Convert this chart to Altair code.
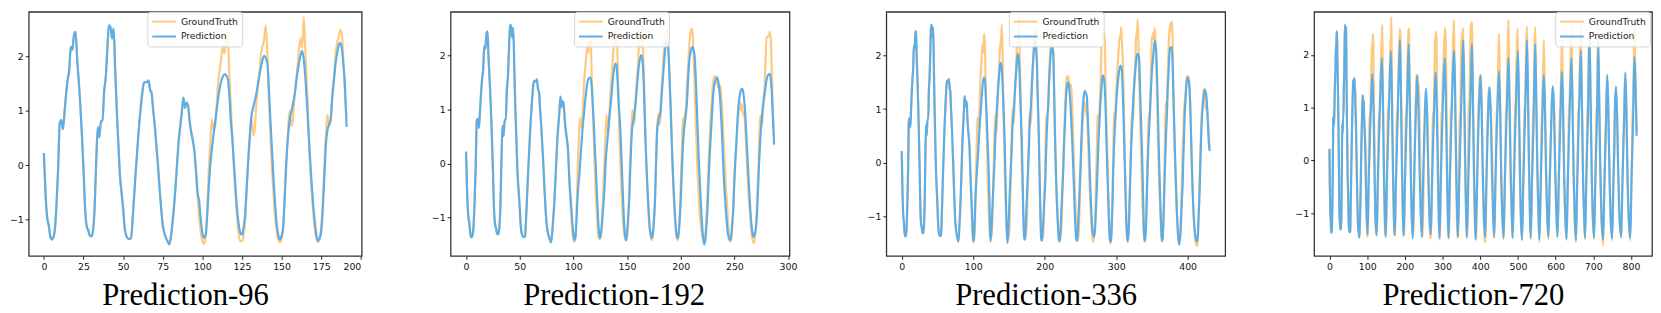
import altair as alt
import pandas as pd

# ---------------- data ----------------
# shared input window (t = 0..95)
HISTORY = [(0,0.22),(1,-0.5),(2,-0.95),(3,-1.1),(4,-1.3),(5,-1.37),(6,-1.33),(7,-1.16),(8,-0.7),(9,-0.07),
(10,0.78),(11,0.83),(12,0.66),(13,0.96),(14,1.3),(15,1.57),(16,1.75),(17,2.18),(18,2.12),(19,2.39),(20,2.45),
(21,1.95),(22,1.55),(23,1.1),(24,0.55),(25,-0.07),(26,-0.8),(27,-1.12),(28,-1.2),(29,-1.3),(30,-1.31),(31,-1.2),
(32,-0.8),(33,0.05),(34,0.7),(35,0.51),(36,0.81),(37,0.81),(38,1.35),(39,1.6),(40,2.1),(41,2.57),(42,2.54),
(43,2.33),(44,2.51),(45,1.75),(46,1.0),(47,0.4),(48,-0.19),(49,-0.5),(50,-0.8),(51,-1.16),(52,-1.3),(53,-1.35),
(54,-1.36),(55,-1.35),(56,-1.0),(57,-0.55),(58,-0.1),(59,0.3),(60,0.7),(61,1.02),(62,1.3),(63,1.5),(64,1.53),
(65,1.52),(66,1.56),(67,1.39),(68,1.32),(69,1.0),(70,0.72),(71,0.35),(72,0.0),(73,-0.43),(74,-0.8),(75,-1.1),
(76,-1.25),(77,-1.34),(78,-1.4),(79,-1.46),(80,-1.35),(81,-1.1),(82,-0.8),(83,-0.43),(84,0.0),(85,0.42),(86,0.7),
(87,0.96),(88,1.24),(89,1.05),(90,1.15),(91,1.09),(92,0.8),(93,0.6),(94,0.45),(95,0.25)]

# ground truth after the input window (t = 96..815)
GT_FUTURE = [(96,-0.15),(97,-0.6),(98,-0.95),(99,-1.25),(100,-1.4),(101,-1.45),(102,-1.35),(103,-0.9),(104,-0.1),
(105,0.4),(106,0.84),(107,0.66),(108,0.7),(109,1.1),(110,1.52),(111,1.75),(112,2.0),(113,2.2),(114,2.05),(115,2.35),
(116,2.4),(117,1.7),(118,1.1),(119,0.5),(120,-0.1),(121,-0.6),(122,-1.0),(123,-1.3),(124,-1.4),(125,-1.4),(126,-1.3),
(127,-1.0),(128,-0.4),(129,0.1),(130,0.6),(131,0.9),(132,0.55),(133,0.65),(134,1.1),(135,1.45),(136,1.7),(137,2.05),
(138,2.2),(139,2.3),(140,2.57),(141,2.1),(142,1.2),(143,0.5),(144,-0.1),(145,-0.6),(146,-1.0),(147,-1.25),(148,-1.38),
(149,-1.42),(150,-1.35),(151,-1.1),(152,-0.5),(153,0.1),(154,0.6),(155,1.0),(156,0.72),(157,0.8),(158,1.2),(159,1.5),
(160,1.8),(161,2.15),(162,2.33),(163,2.15),(164,2.72),(165,2.1),(166,1.45),(167,0.7),(168,0.0),(169,-0.5),(170,-0.9),
(171,-1.2),(172,-1.35),(173,-1.42),(174,-1.35),(175,-1.15),(176,-0.7),(177,-0.05),(178,0.6),(179,0.93),(180,0.72),
(181,0.8),(182,1.3),(183,1.6),(184,2.0),(185,2.25),(186,2.35),(187,2.49),(188,2.42),(189,1.94),(190,1.3),(191,0.85),
(192,0.2),(193,-0.4),(194,-0.85),(195,-1.15),(196,-1.35),(197,-1.42),(198,-1.35),(199,-1.0),(200,-0.4),(201,0.2),
(202,0.85),(203,0.6),(204,0.9),(205,1.05),(206,1.5),(207,1.85),(208,2.2),(209,2.4),(210,2.5),(211,2.45),(212,2.0),
(213,1.4),(214,0.8),(215,0.2),(216,-0.3),(217,-0.7),(218,-1.0),(219,-1.2),(220,-1.35),(221,-1.4),(222,-1.42),
(223,-1.3),(224,-1.0),(225,-0.5),(226,0.0),(227,0.5),(228,0.9),(229,1.2),(230,1.5),(231,1.6),(232,1.62),(233,1.6),
(234,1.5),(235,1.4),(236,1.42),(237,1.45),(238,1.2),(239,0.9),(240,0.4),(241,0.0),(242,-0.4),(243,-0.7),(244,-1.05),
(245,-1.3),(246,-1.45),(247,-1.4),(248,-1.2),(249,-0.8),(250,-0.3),(251,0.1),(252,0.4),(253,0.7),(254,0.95),
(255,1.15),(256,1.0),(257,1.1),(258,0.9),(259,0.95),(260,0.7),(261,0.3),(262,-0.1),(263,-0.5),(264,-0.8),(265,-1.05),
(266,-1.3),(267,-1.42),(268,-1.47),(269,-1.4),(270,-1.2),(271,-0.8),(272,-0.3),(273,0.3),(274,0.89),(275,0.7),
(276,0.75),(277,1.1),(278,1.4),(279,1.9),(280,2.35),(281,2.35),(282,2.35),(283,2.44),(284,2.3),(285,1.6),(286,0.9),
(287,0.5),(288,0.0),(289,-0.6),(290,-1.0),(291,-1.35),(292,-1.5),(293,-1.4),(294,-1.1),(295,-0.5),(296,0.2),
(297,0.94),(298,0.8),(299,0.9),(300,1.3),(301,1.6),(302,1.8),(303,2.0),(304,2.2),(305,2.36),(306,2.3),(307,2.52),
(308,2.3),(309,2.0),(310,1.6),(311,0.9),(312,0.2),(313,-0.5),(314,-1.0),(315,-1.3),(316,-1.48),(317,-1.4),(318,-1.1),
(319,-0.6),(320,-0.1),(321,0.5),(322,0.96),(323,0.8),(324,0.9),(325,1.3),(326,1.7),(327,1.97),(328,2.42),(329,2.3),
(330,2.67),(331,2.3),(332,1.72),(333,1.2),(334,0.6),(335,0.1),(336,-0.4),(337,-0.8),(338,-1.15),(339,-1.4),
(340,-1.47),(341,-1.35),(342,-0.95),(343,-0.4),(344,0.2),(345,0.7),(346,0.92),(347,0.8),(348,1.3),(349,1.9),
(350,2.36),(351,2.3),(352,2.42),(353,2.3),(354,2.51),(355,2.27),(356,1.8),(357,1.42),(358,0.8),(359,0.2),(360,-0.3),
(361,-0.7),(362,-1.0),(363,-1.3),(364,-1.47),(365,-1.4),(366,-1.1),(367,-0.5),(368,0.2),(369,1.11),(370,0.9),
(371,1.0),(372,1.5),(373,2.0),(374,2.36),(375,2.5),(376,2.6),(377,2.45),(378,2.63),(379,2.3),(380,1.42),(381,0.8),
(382,0.2),(383,-0.3),(384,-0.7),(385,-1.0),(386,-1.25),(387,-1.4),(388,-1.5),(389,-1.45),(390,-1.2),(391,-0.8),
(392,-0.3),(393,0.2),(394,0.6),(395,1.0),(396,1.15),(397,1.3),(398,1.5),(399,1.6),(400,1.62),(401,1.6),(402,1.55),
(403,1.3),(404,0.9),(405,0.4),(406,-0.1),(407,-0.5),(408,-0.85),(409,-1.1),(410,-1.3),(411,-1.45),(412,-1.52),
(413,-1.55),(414,-1.45),(415,-1.2),(416,-0.7),(417,-0.2),(418,0.3),(419,0.7),(420,0.95),(421,1.1),(422,1.3),
(423,1.38),(424,1.3),(425,1.0),(426,1.0),(427,1.05),(428,0.9),(429,0.7),(430,0.45),(431,0.25),
(432,0.0),(434,-0.8),(436,-1.3),(437,-1.47),(439,-1.0),(441,-0.2),(443,0.95),(444,0.75),(446,1.3),(448,2.0),
(450,2.4),(452,1.4),(455,-0.1),(458,-1.0),(462,-1.5),(465,-0.5),(467,0.4),(468,1.0),(469,0.8),(471,1.5),(473,2.2),
(475,2.67),(477,1.5),(480,-0.1),(483,-1.0),(486,-1.48),(489,-0.5),(491,0.4),(492,1.0),(493,0.8),(495,1.5),(497,2.1),
(499,2.5),(501,1.5),(504,-0.1),(507,-1.0),(511,-1.52),(514,-0.5),(516,0.4),(517,1.0),(518,0.8),(520,1.5),(522,2.2),
(524,2.54),(526,1.5),(529,-0.1),(532,-1.0),(534,-1.5),(537,-0.5),(539,0.4),(540,1.0),(541,0.8),(543,1.6),(544,2.2),
(546,2.53),(548,1.5),(551,-0.1),(554,-1.0),(557,-1.55),(560,-0.6),(562,0.3),(563,0.9),(564,0.75),(566,1.5),(568,2.0),
(569,2.28),(571,1.3),(574,-0.1),(577,-1.0),(581,-1.5),(584,-0.5),(587,0.35),(589,0.85),(590,1.1),(593,1.42),
(596,0.9),(599,-0.2),(602,-1.0),(605,-1.45),(608,-0.5),(610,0.4),(611,1.0),(612,0.8),(614,1.5),(616,2.1),(617,2.4),
(619,1.4),(622,-0.1),(625,-1.0),(629,-1.5),(632,-0.5),(634,0.4),(635,1.0),(636,0.8),(638,1.5),(640,2.1),(642,2.5),
(644,1.5),(647,-0.1),(650,-1.0),(654,-1.55),(657,-0.5),(659,0.4),(660,1.0),(661,0.8),(663,1.5),(665,2.2),(667,2.6),
(669,1.5),(672,-0.1),(675,-1.0),(678,-1.5),(681,-0.5),(683,0.4),(684,1.0),(685,0.8),(687,1.5),(688,2.1),(690,2.45),
(692,1.5),(695,-0.1),(698,-1.0),(702,-1.5),(705,-0.5),(707,0.4),(708,1.0),(709,0.8),(711,1.6),(712,2.2),(713,2.55),
(715,1.5),(718,-0.1),(721,-1.0),(726,-1.62),(729,-0.6),(732,0.3),(734,0.85),(735,1.2),(737,1.62),(740,0.9),
(743,-0.3),(746,-1.1),(750,-1.52),(753,-0.5),(756,0.35),(757,0.85),(758,1.1),(760,1.4),(763,0.9),(766,-0.2),
(769,-1.0),(774,-1.47),(777,-0.5),(780,0.35),(782,0.85),(783,1.2),(785,1.62),(788,0.9),(791,-0.4),(794,-1.1),
(798,-1.52),(801,-0.5),(803,0.4),(804,1.0),(805,0.8),(807,1.6),(808,2.2),(809,2.58),(811,1.95),(813,1.2),(815,0.55)]

PRED_96 = [(96,-0.1),(97,-0.5),(98,-0.67),(99,-1.0),(100,-1.25),(101,-1.34),(102,-1.3),(103,-0.95),(104,-0.43),
(105,0.0),(107,0.54),(109,1.0),(110,1.24),(112,1.55),(114,1.67),(116,1.6),(117,1.3),(118,0.8),(119,0.45),(120,0.0),
(121,-0.45),(122,-0.85),(123,-1.1),(124,-1.25),(125,-1.28),(126,-1.15),(127,-0.91),(128,-0.4),(129,0.12),(130,0.55),
(131,0.91),(132,1.05),(134,1.3),(136,1.65),(138,1.94),(139,2.01),(141,1.88),(142,1.4),(143,0.8),(144,0.25),
(145,-0.3),(146,-0.75),(147,-1.1),(148,-1.3),(149,-1.37),(150,-1.3),(151,-1.16),(152,-0.6),(153,0.06),(154,0.5),
(155,0.8),(157,1.1),(158,1.25),(160,1.7),(162,2.02),(163,2.1),(164,1.94),(165,1.6),(166,1.15),(167,0.6),(168,0.1),
(169,-0.35),(170,-0.75),(171,-1.05),(172,-1.3),(173,-1.39),(174,-1.35),(175,-1.22),(176,-0.8),(177,-0.2),(178,0.4),
(179,0.65),(180,0.75),(181,0.85),(182,1.25),(183,1.55),(184,1.85),(185,2.05),(186,2.2),(187,2.25),(188,2.15),
(189,1.85),(190,1.45),(191,0.7)]

PRED_192 = [(96,-0.2),(98,-0.8),(100,-1.3),(101,-1.42),(102,-1.35),(103,-1.0),(104,-0.6),(106,-0.09),(108,0.5),
(110,0.95),(112,1.35),(114,1.57),(116,1.59),(117,1.45),(118,1.13),(119,0.75),(120,0.3),(121,-0.09),(122,-0.6),
(123,-1.0),(124,-1.3),(125,-1.38),(126,-1.25),(127,-1.0),(129,-0.46),(130,0.0),(132,0.5),(133,0.75),(135,1.14),
(137,1.6),(139,1.85),(140,1.83),(141,1.6),(142,1.2),(144,0.52),(145,0.0),(146,-0.5),(147,-1.0),(148,-1.3),
(149,-1.43),(150,-1.3),(151,-1.0),(152,-0.7),(153,-0.1),(154,0.4),(155,0.7),(156,0.8),(158,1.13),(160,1.6),
(161,1.8),(163,2.01),(164,1.95),(165,1.74),(166,1.2),(167,0.52),(168,0.0),(169,-0.45),(170,-0.83),(171,-1.15),
(172,-1.3),(173,-1.38),(174,-1.3),(175,-1.05),(176,-0.7),(177,0.0),(178,0.6),(179,0.78),(181,0.94),(182,1.2),
(184,1.74),(186,2.2),(187,2.26),(188,2.2),(189,1.9),(190,1.4),(191,0.82),(192,0.2),(193,-0.3),(194,-0.7),
(195,-1.05),(196,-1.3),(197,-1.38),(198,-1.3),(199,-1.05),(200,-0.7),(201,-0.15),(202,0.3),(203,0.6),(205,0.95),
(206,1.2),(207,1.6),(208,1.9),(209,2.05),(211,2.16),(212,2.1),(213,1.98),(214,1.6),(215,1.05),(216,0.52),(217,0.0),
(218,-0.4),(219,-0.83),(220,-1.15),(221,-1.4),(222,-1.5),(223,-1.4),(224,-1.15),(225,-0.83),(226,-0.3),(227,0.15),
(228,0.5),(229,0.85),(230,1.2),(232,1.52),(234,1.59),(235,1.52),(236,1.37),(237,1.1),(238,0.75),(239,0.3),
(240,-0.2),(241,-0.55),(242,-0.85),(243,-1.1),(244,-1.3),(246,-1.42),(247,-1.35),(248,-1.1),(249,-0.83),(250,-0.3),
(251,0.1),(252,0.45),(253,0.85),(255,1.26),(257,1.39),(258,1.35),(259,1.2),(260,0.95),(261,0.6),(262,0.2),
(263,-0.2),(264,-0.55),(265,-0.9),(266,-1.15),(267,-1.3),(268,-1.36),(269,-1.3),(270,-1.2),(271,-0.95),(272,-0.5),
(273,0.0),(274,0.4),(275,0.7),(276,0.95),(278,1.26),(280,1.55),(281,1.63),(283,1.66),(284,1.55),(285,1.26),
(286,0.8),(287,0.35)]

PRED_336 = [(96,-0.2),(98,-0.8),(99,-1.2),(100,-1.47),(101,-1.4),(102,-1.1),(103,-0.7),(105,-0.2),(107,0.2),
(109,0.7),(111,1.05),(112,1.25),(113,1.42),(115,1.59),(116,1.57),(117,1.45),(118,1.11),(119,0.8),(120,0.45),
(121,0.1),(122,-0.3),(123,-0.9),(124,-1.46),(125,-1.35),(126,-1.1),(127,-0.8),(128,-0.5),(130,0.1),(131,0.5),
(132,0.75),(134,1.2),(136,1.6),(138,1.86),(139,1.85),(140,1.72),(141,1.5),(142,1.15),(143,0.8),(144,0.4),
(145,-0.2),(146,-0.8),(147,-1.3),(148,-1.49),(149,-1.3),(150,-1.0),(151,-0.6),(152,-0.3),(154,0.3),(155,0.7),
(156,0.85),(158,1.25),(159,1.48),(161,1.85),(162,2.03),(163,2.0),(164,1.91),(165,1.6),(166,1.2),(167,0.8),
(168,0.4),(169,-0.2),(170,-0.9),(171,-1.35),(172,-1.43),(173,-1.3),(174,-1.0),(175,-0.65),(176,-0.35),(178,0.3),
(179,0.7),(180,0.94),(181,1.1),(182,1.45),(183,1.72),(185,2.1),(186,2.27),(187,2.2),(188,2.1),(189,1.9),(190,1.4),
(191,0.9),(192,0.4),(193,-0.3),(194,-1.0),(195,-1.4),(196,-1.45),(197,-1.3),(198,-1.1),(199,-0.8),(201,-0.3),
(202,0.2),(203,0.6),(204,0.9),(205,1.1),(206,1.45),(207,1.72),(208,1.95),(209,2.1),(210,2.15),(211,2.12),
(212,2.05),(213,1.5),(214,0.8),(215,0.2),(216,-0.3),(217,-0.7),(218,-1.0),(219,-1.3),(220,-1.46),(221,-1.45),
(222,-1.3),(223,-1.0),(224,-0.7),(226,-0.11),(227,0.3),(228,0.6),(229,0.95),(230,1.25),(231,1.4),(233,1.5),
(234,1.45),(235,1.29),(236,1.1),(237,0.85),(238,0.55),(239,0.25),(240,-0.1),(241,-0.5),(242,-0.9),(243,-1.2),
(244,-1.4),(245,-1.45),(246,-1.35),(247,-1.1),(248,-0.8),(250,-0.11),(251,0.3),(252,0.65),(253,0.95),(254,1.15),
(256,1.34),(257,1.32),(258,1.28),(259,1.23),(260,0.95),(261,0.6),(262,0.3),(263,-0.1),(264,-0.5),(265,-0.8),
(266,-1.1),(267,-1.28),(269,-1.37),(270,-1.3),(271,-1.1),(272,-0.8),(273,-0.45),(274,-0.11),(275,0.3),(276,0.6),
(277,0.85),(278,1.11),(279,1.3),(281,1.63),(283,1.57),(284,1.4),(285,1.1),(286,0.6),(287,0.14),(288,-0.3),
(289,-0.7),(290,-1.1),(291,-1.4),(292,-1.47),(293,-1.4),(294,-1.1),(295,-0.7),(296,-0.11),(297,0.3),(298,0.6),
(299,0.85),(301,1.29),(302,1.45),(304,1.7),(306,1.81),(307,1.78),(308,1.72),(309,1.4),(310,1.0),(311,0.5),(312,0.0),
(313,-0.5),(314,-1.0),(315,-1.35),(316,-1.45),(317,-1.35),(318,-1.1),(319,-0.6),(320,-0.11),(321,0.3),(322,0.6),
(323,0.85),(324,1.2),(325,1.42),(327,1.75),(329,2.0),(330,2.03),(332,1.97),(333,1.6),(334,1.1),(335,0.7),(336,0.3),
(337,-0.2),(338,-0.8),(339,-1.3),(340,-1.45),(341,-1.35),(342,-1.1),(343,-0.6),(344,-0.11),(345,0.3),(346,0.6),
(347,0.85),(348,1.17),(349,1.45),(350,1.7),(352,2.0),(354,2.27),(355,2.2),(356,2.09),(357,1.7),(358,1.2),(359,0.6),
(360,0.1),(361,-0.4),(362,-0.8),(363,-1.2),(364,-1.45),(365,-1.4),(366,-1.15),(367,-0.7),(368,-0.2),(369,0.2),
(370,0.6),(371,0.9),(372,1.35),(373,1.6),(374,1.9),(375,2.1),(376,2.15),(378,2.15),(379,1.8),(380,1.3),(381,0.8),
(382,0.3),(383,-0.1),(384,-0.5),(385,-0.9),(386,-1.2),(387,-1.4),(388,-1.52),(389,-1.45),(390,-1.3),(391,-1.0),
(392,-0.7),(393,-0.41),(394,0.1),(395,0.5),(396,0.95),(397,1.15),(398,1.4),(400,1.59),(401,1.55),(402,1.48),
(403,1.3),(404,0.9),(405,0.4),(406,-0.1),(407,-0.5),(408,-0.85),(409,-1.1),(410,-1.28),(411,-1.38),(413,-1.46),
(414,-1.4),(415,-1.1),(416,-0.8),(417,-0.41),(418,0.1),(419,0.5),(420,0.85),(421,1.05),(422,1.2),(424,1.36),
(425,1.33),(426,1.27),(427,1.1),(428,0.81),(429,0.55),(430,0.3),(431,0.22)]

PRED_720 = [(96,-0.2),(98,-0.9),(101,-1.4),(104,-0.4),(107,0.35),(109,0.85),(111,1.2),(114,1.64),(117,0.9),
(120,-0.4),(122,-1.1),(125,-1.42),(128,-0.5),(131,0.3),(133,0.85),(135,1.3),(139,1.94),(142,1.0),(145,-0.4),
(147,-1.1),(149,-1.45),(152,-0.5),(155,0.3),(157,0.85),(159,1.3),(163,2.07),(166,1.0),(169,-0.4),(171,-1.1),
(173,-1.42),(176,-0.5),(179,0.3),(181,0.9),(183,1.4),(187,2.29),(190,1.1),(193,-0.4),(195,-1.1),(197,-1.43),
(200,-0.5),(203,0.35),(205,0.9),(207,1.4),(210,2.21),(213,1.1),(216,-0.3),(218,-1.0),(221,-1.48),(224,-0.5),
(227,0.35),(229,0.9),(231,1.3),(233,1.62),(236,1.0),(239,-0.2),(242,-1.0),(245,-1.45),(248,-0.5),(251,0.35),
(253,0.85),(254,1.1),(256,1.37),(259,0.9),(262,-0.2),(265,-1.0),(269,-1.4),(272,-0.5),(275,0.35),(277,0.85),
(279,1.25),(282,1.67),(285,0.9),(288,-0.4),(290,-1.1),(292,-1.47),(295,-0.5),(298,0.35),(300,0.9),(302,1.35),
(306,1.94),(309,1.0),(312,-0.3),(314,-1.1),(316,-1.47),(319,-0.5),(322,0.35),(324,0.9),(326,1.35),(331,2.08),
(334,1.0),(337,-0.4),(339,-1.1),(341,-1.45),(344,-0.5),(347,0.35),(349,0.9),(351,1.4),(355,2.29),(358,1.1),
(361,-0.4),(363,-1.1),(365,-1.45),(368,-0.5),(371,0.35),(373,0.9),(375,1.45),(378,2.21),(381,1.0),(384,-0.4),
(386,-1.1),(388,-1.5),(391,-0.6),(394,0.3),(396,0.85),(398,1.25),(401,1.62),(404,0.9),(407,-0.3),(410,-1.1),
(413,-1.45),(416,-0.5),(419,0.35),(421,0.85),(422,1.1),(425,1.39),(428,0.9),(431,-0.2),(434,-1.0),(437,-1.45),
(440,-0.5),(443,0.35),(445,0.85),(447,1.25),(450,1.69),(453,0.9),(456,-0.4),(459,-1.1),(462,-1.47),(465,-0.5),
(468,0.35),(470,0.9),(472,1.35),(475,1.94),(478,1.0),(481,-0.3),(484,-1.1),(486,-1.47),(489,-0.5),(492,0.35),
(494,0.9),(496,1.35),(500,2.07),(503,1.0),(506,-0.4),(508,-1.1),(511,-1.5),(514,-0.5),(517,0.35),(519,0.9),
(521,1.45),(524,2.28),(527,1.1),(530,-0.3),(532,-1.1),(534,-1.47),(537,-0.5),(540,0.35),(542,0.9),(543,1.4),
(546,2.21),(549,1.0),(552,-0.3),(555,-1.1),(557,-1.5),(560,-0.6),(563,0.3),(565,0.85),(566,1.2),(569,1.62),
(572,0.9),(575,-0.3),(578,-1.1),(581,-1.45),(584,-0.5),(587,0.35),(589,0.85),(590,1.1),(593,1.4),(596,0.9),
(599,-0.2),(602,-1.0),(605,-1.45),(608,-0.5),(611,0.35),(613,0.85),(614,1.2),(617,1.69),(620,0.9),(623,-0.4),
(626,-1.1),(629,-1.5),(632,-0.5),(635,0.35),(637,0.9),(639,1.35),(642,1.94),(645,1.0),(648,-0.3),(651,-1.1),
(654,-1.52),(657,-0.5),(660,0.35),(662,0.9),(664,1.35),(667,2.08),(670,1.0),(673,-0.4),(676,-1.1),(678,-1.47),
(681,-0.5),(684,0.35),(686,0.9),(687,1.4),(690,2.29),(693,1.1),(696,-0.3),(699,-1.1),(702,-1.47),(705,-0.5),
(708,0.35),(710,0.9),(711,1.4),(713,2.21),(716,1.0),(719,-0.3),(722,-1.1),(726,-1.5),(729,-0.6),(732,0.3),
(734,0.85),(735,1.2),(737,1.62),(740,0.9),(743,-0.3),(746,-1.1),(750,-1.48),(753,-0.5),(756,0.35),(757,0.85),
(758,1.1),(760,1.4),(763,0.9),(766,-0.2),(769,-1.0),(774,-1.45),(777,-0.5),(780,0.35),(782,0.85),(783,1.2),
(785,1.67),(788,0.9),(791,-0.4),(794,-1.1),(798,-1.47),(801,-0.5),(804,0.35),(806,0.9),(807,1.4),(809,1.96),
(812,1.4),(815,0.47)]

HORIZONS = [96, 192, 336, 720]
PREDICTIONS = [PRED_96, PRED_192, PRED_336, PRED_720]
TITLES = ["Prediction-96", "Prediction-192", "Prediction-336", "Prediction-720"]
X_TICKS = [[0, 25, 50, 75, 100, 125, 150, 175, 200],
           [0, 50, 100, 150, 200, 250, 300],
           [0, 100, 200, 300, 400],
           [0, 100, 200, 300, 400, 500, 600, 700, 800]]
X_DOMAINS = [[-9.55, 200.55], [-14.35, 301.35], [-21.55, 452.55], [-40.75, 855.75]]
Y_DOMAINS = [[-1.67, 2.82], [-1.71, 2.81], [-1.73, 2.81], [-1.81, 2.82]]
Y_TICKS = [-1, 0, 1, 2]
SERIES = ["GroundTruth", "Prediction"]
COLORS = ["#FFCA80", "#5DADE6"]

# ---------------- layout ----------------
WIDTHS = [337, 343, 343, 342]
HEIGHT = 247
LEGEND_X = [120, 125, 124, 244]
# horizontal stroke longer than the nominal symbol box, so the legend rows stay compact
LEGEND_SYMBOL = "M-1,0H3.8"


def frame(points, name):
    return pd.DataFrame({"t": [p[0] for p in points],
                         "v": [p[1] for p in points],
                         "series": name})


def panel(i):
    last = HORIZONS[i] + 95
    gt = frame([p for p in HISTORY + GT_FUTURE if p[0] <= last], SERIES[0])
    pr = frame(HISTORY + PREDICTIONS[i], SERIES[1])
    x = alt.X("t:Q", title=None,
              scale=alt.Scale(domain=X_DOMAINS[i], nice=False, zero=False),
              axis=alt.Axis(values=X_TICKS[i], format="d"))
    y = alt.Y("v:Q", title=None,
              scale=alt.Scale(domain=Y_DOMAINS[i], nice=False, zero=False),
              axis=alt.Axis(values=Y_TICKS, format="d"))
    color = alt.Color("series:N", title=None,
                      scale=alt.Scale(domain=SERIES, range=COLORS),
                      legend=alt.Legend(orient="none", legendX=LEGEND_X[i], legendY=0,
                                        symbolType=LEGEND_SYMBOL, symbolSize=100,
                                        symbolStrokeWidth=2, labelFont="DejaVu Sans",
                                        labelFontSize=9.3, labelColor="#222",
                                        fillColor="rgba(255,255,255,0.85)",
                                        strokeColor="#d5d5d5", padding=4,
                                        cornerRadius=3, rowPadding=3, labelOffset=18))
    line = dict(strokeWidth=2.2, interpolate="monotone", clip=True)
    a = alt.Chart(gt).mark_line(**line).encode(x=x, y=y, color=color)
    b = alt.Chart(pr).mark_line(**line).encode(x=x, y=y, color=color)
    return alt.layer(a, b).properties(
        width=WIDTHS[i], height=HEIGHT,
        title=alt.TitleParams(TITLES[i], orient="bottom", anchor="middle", frame="bounds",
                              font="Liberation Serif", fontSize=31, fontWeight="normal",
                              color="black", offset=11))


chart = alt.hconcat(*[panel(i) for i in range(4)], spacing=68).resolve_scale(
    x="independent", y="independent", color="independent"
).resolve_legend(color="independent").properties(
    padding={"left": 0, "top": 0, "right": 0, "bottom": 0}
).configure_view(
    stroke="#333333", strokeWidth=1.3
).configure_axis(
    domain=False, grid=False, ticks=True, tickColor="#222", tickSize=3.5, tickWidth=1,
    labelFont="DejaVu Sans", labelFontSize=9.5, labelColor="#111", labelPadding=2
)

chart.save("out.html", embed_options={"renderer": "svg", "actions": False})
